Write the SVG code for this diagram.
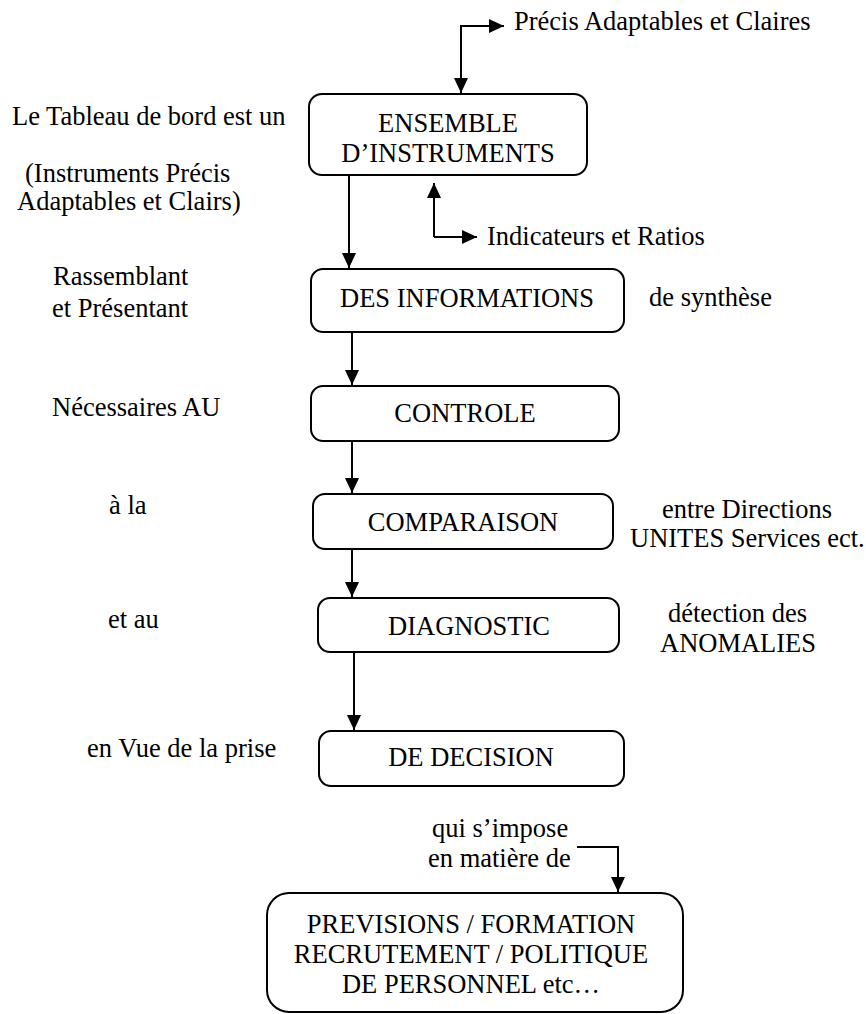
<svg xmlns="http://www.w3.org/2000/svg" width="866" height="1014" viewBox="0 0 866 1014">
<style>
text{font-family:'Liberation Serif','Times New Roman',Tinos,'DejaVu Serif',serif;font-size:26.5px;fill:#000}
.c{text-anchor:middle}
.box{fill:#fff;stroke:#000;stroke-width:2}
.ln{fill:none;stroke:#000;stroke-width:2}
</style>
<defs>
<marker id="ah" markerUnits="userSpaceOnUse" markerWidth="16" markerHeight="16" viewBox="0 0 16 16" refX="15" refY="8" orient="auto">
<path d="M0,1 L15,8 L0,15 Z" fill="#000"/>
</marker>
</defs>
<rect width="866" height="1014" fill="#fff"/>

<g id="connectors">
<path class="ln" d="M461,40 L461,26 L504,26" marker-end="url(#ah)"/>
<path class="ln" d="M461,26 L461,93" marker-end="url(#ah)"/>
<path class="ln" d="M434,237 L434,183" marker-end="url(#ah)"/>
<path class="ln" d="M434,237 L477,237" marker-end="url(#ah)"/>
<path class="ln" d="M349,175 L349,268" marker-end="url(#ah)"/>
<path class="ln" d="M352,332 L352,385" marker-end="url(#ah)"/>
<path class="ln" d="M352,441 L352,493" marker-end="url(#ah)"/>
<path class="ln" d="M352,549 L352,597" marker-end="url(#ah)"/>
<path class="ln" d="M354,652 L354,730" marker-end="url(#ah)"/>
<path class="ln" d="M577,847 L618,847 L618,892" marker-end="url(#ah)"/>
</g>

<g font-family="Liberation Serif, serif">
<g id="n-ensemble">
<rect class="box" x="309" y="94" width="278" height="81" rx="13"/>
<text class="c" x="448" y="132">ENSEMBLE</text>
<text class="c" x="448" y="162">D’INSTRUMENTS</text>
</g>
<g id="n-informations">
<rect class="box" x="311" y="269" width="313" height="63" rx="12"/>
<text class="c" x="467" y="307">DES INFORMATIONS</text>
</g>
<g id="n-controle">
<rect class="box" x="311" y="386" width="308" height="55" rx="12"/>
<text class="c" x="465" y="422">CONTROLE</text>
</g>
<g id="n-comparaison">
<rect class="box" x="313" y="494" width="300" height="55" rx="12"/>
<text class="c" x="463" y="531">COMPARAISON</text>
</g>
<g id="n-diagnostic">
<rect class="box" x="318" y="598" width="301" height="54" rx="12"/>
<text class="c" x="469" y="635">DIAGNOSTIC</text>
</g>
<g id="n-decision">
<rect class="box" x="319" y="731" width="305" height="55" rx="12"/>
<text class="c" x="471" y="766">DE DECISION</text>
</g>
<g id="n-previsions">
<rect class="box" x="267" y="893" width="416" height="119" rx="22"/>
<text class="c" x="471" y="933">PREVISIONS / FORMATION</text>
<text class="c" x="471" y="963">RECRUTEMENT / POLITIQUE</text>
<text class="c" x="471" y="993">DE PERSONNEL etc…</text>
</g>

<g id="labels">
<text x="514" y="30">Précis Adaptables et Claires</text>
<text x="487" y="245">Indicateurs et Ratios</text>
<text x="649" y="306">de synthèse</text>
<text x="662" y="518">entre Directions</text>
<text x="630" y="547">UNITES Services ect.</text>
<text x="668" y="622">détection des</text>
<text x="660" y="652">ANOMALIES</text>
<text x="432" y="837">qui s’impose</text>
<text x="428" y="867">en matière de</text>

<text x="12" y="125">Le Tableau de bord est un</text>
<text x="25" y="182">(Instruments Précis</text>
<text x="17" y="210">Adaptables et Clairs)</text>
<text x="53" y="285">Rassemblant</text>
<text x="52" y="317">et Présentant</text>
<text x="52" y="416">Nécessaires AU</text>
<text x="109" y="514">à la</text>
<text x="108" y="628">et au</text>
<text x="87" y="757">en Vue de la prise</text>
</g>
</g>
</svg>
